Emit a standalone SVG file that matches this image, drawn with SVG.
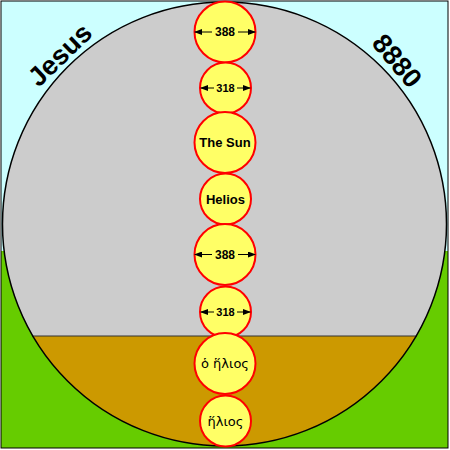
<svg xmlns="http://www.w3.org/2000/svg" width="450" height="450" viewBox="0 0 450 450">
<defs>
<style>
.c{fill:#FFFF66;stroke:#FF0000;stroke-width:2}
.t{font-family:"Liberation Sans",Arial,sans-serif;font-weight:bold;fill:#000;text-anchor:middle}
.g{font-family:"DejaVu Sans","Noto Sans",sans-serif;fill:#000;text-anchor:middle;font-size:13px}
.a{stroke:#000;stroke-width:1;fill:none}
</style>
<marker id="ah" markerWidth="8" markerHeight="6" refX="7" refY="3" orient="auto" markerUnits="userSpaceOnUse">
<path d="M0,0 L8,3 L0,6 Z" fill="#000"/>
</marker>
<clipPath id="cc"><circle cx="224.5" cy="224" r="222"/></clipPath>
</defs>
<rect x="0" y="0" width="450" height="450" fill="#fff"/>
<rect x="1" y="1" width="447" height="250" fill="#CCFFFF"/>
<rect x="1" y="251" width="447" height="197" fill="#66CC00"/>
<rect x="1" y="1" width="447" height="447" fill="none" stroke="#000" stroke-width="1"/>
<g id="disc">
<circle cx="224.5" cy="224" r="222" fill="#CCCCCC"/>
<rect x="0" y="336" width="450" height="120" fill="#CC9900" clip-path="url(#cc)"/>
<line x1="32" y1="336" x2="417" y2="336" stroke="#333" stroke-width="1"/>
<circle cx="224.5" cy="224" r="222" fill="none" stroke="#000" stroke-width="1.5"/>
</g>
<text class="t" font-size="27" transform="translate(60,55) rotate(-44)" dy="9">Jesus</text>
<text class="t" font-size="27" transform="translate(397,61) rotate(50)" dy="9">8880</text>
<g id="n1"><circle class="c" cx="225" cy="32" r="30.5"/><text class="t" font-size="12" x="225" y="36">388</text></g>
<g id="n2"><circle class="c" cx="225.5" cy="88" r="25.5"/><text class="t" font-size="11" x="225.5" y="92">318</text></g>
<g id="n3"><circle class="c" cx="225" cy="142.5" r="30.5"/><text class="t" font-size="13" x="225" y="147">The Sun</text></g>
<g id="n4"><circle class="c" cx="225.5" cy="199" r="25.5"/><text class="t" font-size="13" x="225.5" y="203.5">Helios</text></g>
<g id="n5"><circle class="c" cx="225" cy="254.5" r="30.5"/><text class="t" font-size="12" x="225" y="259">388</text></g>
<g id="n6"><circle class="c" cx="225.5" cy="312" r="25.5"/><text class="t" font-size="11" x="225.5" y="316">318</text></g>
<g id="n7"><circle class="c" cx="225" cy="363.5" r="30.5"/><text class="g" x="225" y="368">ὁ ἥλιος</text></g>
<g id="n8"><circle class="c" cx="225.5" cy="421" r="25.5"/><text class="g" x="225.5" y="426">ἥλιος</text></g>
<g id="connectors">
<line class="a" x1="212" y1="32" x2="195" y2="32" marker-end="url(#ah)"/>
<line class="a" x1="238" y1="32" x2="255" y2="32" marker-end="url(#ah)"/>
<line class="a" x1="214" y1="88" x2="201" y2="88" marker-end="url(#ah)"/>
<line class="a" x1="237" y1="88" x2="250" y2="88" marker-end="url(#ah)"/>
<line class="a" x1="212" y1="254.5" x2="195" y2="254.5" marker-end="url(#ah)"/>
<line class="a" x1="238" y1="254.5" x2="255" y2="254.5" marker-end="url(#ah)"/>
<line class="a" x1="214" y1="312" x2="201" y2="312" marker-end="url(#ah)"/>
<line class="a" x1="237" y1="312" x2="250" y2="312" marker-end="url(#ah)"/>
</g>
</svg>
